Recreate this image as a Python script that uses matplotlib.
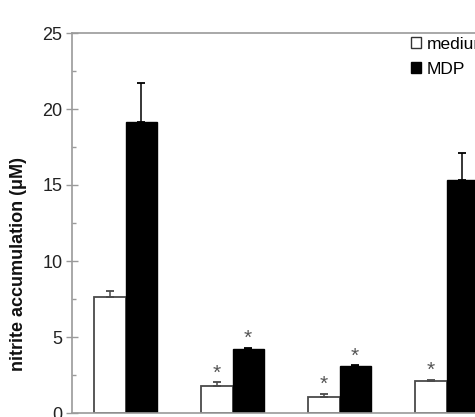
import matplotlib
matplotlib.use("Agg")
import matplotlib.pyplot as plt
from matplotlib.patches import Patch
import numpy as np

plt.rcParams['font.family'] = ['Liberation Sans', 'DejaVu Sans']

groups = ["1", "2", "3", "4"]
medium = [7.65, 1.78, 1.05, 2.10]
medium_err = [0.35, 0.24, 0.22, 0.08]
mdp = [19.15, 4.21, 3.07, 15.30]
mdp_err = [2.55, 0.07, 0.08, 1.78]
medium_sig = [False, True, True, True]
mdp_sig = [False, True, True, False]
yticks = [0, 5, 10, 15, 20, 25]
series_labels = ["medium", "MDP"]

W, H = 475, 417
fig = plt.figure(figsize=(W / 100, H / 100), dpi=100)
ax = fig.add_axes([72 / W, 4 / H, 428 / W, 380 / H])

x = np.arange(len(groups)) + 0.5
bw = 0.29
edge_gray = "#4a4a4a"
ax.bar(x - bw / 2, medium, bw, color="white", edgecolor=edge_gray, linewidth=1.3, zorder=2)
ax.bar(x + bw / 2, mdp, bw, color="black", edgecolor="black", linewidth=1.0, zorder=2)
ax.errorbar(x - bw / 2, medium, yerr=[np.zeros(len(medium)), medium_err], fmt="none",
            ecolor=edge_gray, elinewidth=1.1, capsize=3, capthick=1.3, zorder=3)
ax.errorbar(x + bw / 2, mdp, yerr=[np.zeros(len(mdp)), mdp_err], fmt="none",
            ecolor="black", elinewidth=1.1, capsize=3, capthick=1.3, zorder=3)

off = 0.6
for xi, v, e, s in zip(x - bw / 2, medium, medium_err, medium_sig):
    if s:
        ax.text(xi, v + e + off, "*", ha="center", va="center", fontsize=15, color="#555555")
for xi, v, e, s in zip(x + bw / 2, mdp, mdp_err, mdp_sig):
    if s:
        ax.text(xi, v + e + off, "*", ha="center", va="center", fontsize=15, color="#555555")

ax.set_xlim(0, len(groups))
ax.set_ylim(0, 25)
ax.set_yticks(yticks)
ax.set_yticks(np.arange(2.5, 25, 5), minor=True)
ax.set_xticks([])
spine_c = "#9a9a9a"
for s in ax.spines.values():
    s.set_color(spine_c)
    s.set_linewidth(1.2)
ax.tick_params(axis="y", which="major", direction="inout", length=8, width=1.0,
               color=spine_c, labelsize=13, labelcolor="#222222", pad=3)
ax.tick_params(axis="y", which="minor", direction="in", length=3, width=1.0, color=spine_c)

fig.text(19 / W, 1 - 264 / H, "nitrite accumulation (\u03bcM)", rotation=90, ha="center",
         va="center", fontsize=13, fontweight="bold", color="#111111")

handles = [Patch(facecolor="white", edgecolor="#333333", linewidth=1.0),
           Patch(facecolor="black", edgecolor="black")]
ax.legend(handles, series_labels, loc="upper left", bbox_to_anchor=(411 / W, 1 - 37 / H),
          bbox_transform=fig.transFigure, frameon=False, fontsize=12.5,
          handlelength=0.6, handleheight=0.6, handletextpad=0.3, labelspacing=0.55,
          borderpad=0, borderaxespad=0)

fig.savefig("out.png", dpi=100)
